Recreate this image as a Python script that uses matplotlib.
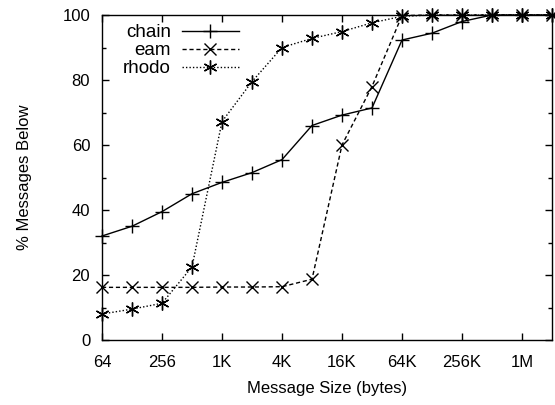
import matplotlib
matplotlib.use("Agg")
import matplotlib.pyplot as plt
from matplotlib.ticker import FixedLocator, MultipleLocator

plt.rcParams['font.family'] = ['Liberation Sans', 'DejaVu Sans']

sizes = [64, 128, 256, 512, 1024, 2048, 4096, 8192, 16384, 32768, 65536,
         131072, 262144, 524288, 1048576, 2097152]
chain = [32, 35, 39.5, 45, 48.5, 51.5, 55.5, 66, 69.2, 71.4, 92.3, 94.4, 98, 100, 100, 100]
eam = [16.2, 16.2, 16.2, 16.2, 16.3, 16.3, 16.4, 18.7, 60, 78, 99.8, 100, 100, 100, 100, 100]
rhodo = [8, 9.5, 11.3, 22.5, 67.2, 79.5, 90, 92.8, 94.9, 97.6, 99.6, 100, 100, 100, 100, 100]

xtick_vals = [64, 256, 1024, 4096, 16384, 65536, 262144, 1048576]
xtick_labels = ['64', '256', '1K', '4K', '16K', '64K', '256K', '1M']

fig = plt.figure(figsize=(5.55, 4.05), dpi=100)
ax = fig.add_axes([102/555, 65/405, 450/555, 325/405])

ax.plot(sizes, chain, color='black', lw=1, ls='-', marker='+', ms=10, mew=1, label='chain', clip_on=False)
ax.plot(sizes, eam, color='black', lw=1, ls=(0, (3, 2)), marker='x', ms=8, mew=1, label='eam', clip_on=False)
ax.plot(sizes, rhodo, color='black', lw=1, ls=(0, (1, 1.5)), marker=(6, 2, 0), ms=10, mew=1, label='rhodo', clip_on=False)

ax.set_xscale('log', base=2)
ax.set_xlim(64, 2097152)
ax.set_ylim(0, 100)
ax.xaxis.set_major_locator(FixedLocator(xtick_vals))
ax.set_xticklabels(xtick_labels)
ax.xaxis.set_minor_locator(FixedLocator([]))
ax.yaxis.set_major_locator(MultipleLocator(20))
ax.yaxis.set_minor_locator(MultipleLocator(10))
ax.tick_params(which='both', direction='in', top=True, right=True, labelsize=12, width=1)
ax.tick_params(which='major', length=5)
ax.tick_params(which='minor', length=3)
ax.tick_params(axis='x', which='major', pad=11)
ax.tick_params(axis='y', which='major', pad=8.5)
for s in ax.spines.values():
    s.set_linewidth(1)

ax.set_xlabel('Message Size (bytes)', fontsize=12, labelpad=8)
ax.set_ylabel('% Messages Below', fontsize=12, labelpad=22)

leg = ax.legend(loc='upper left', frameon=False, markerfirst=False, fontsize=13.5,
                handlelength=3.0, borderaxespad=0, borderpad=0, labelspacing=0.05,
                handletextpad=0.6, bbox_to_anchor=(0.047, 0.972))
for t in leg.get_texts():
    t.set_ha('right')
leg._legend_box.align = 'right'

fig.savefig('out.png', dpi=100)
